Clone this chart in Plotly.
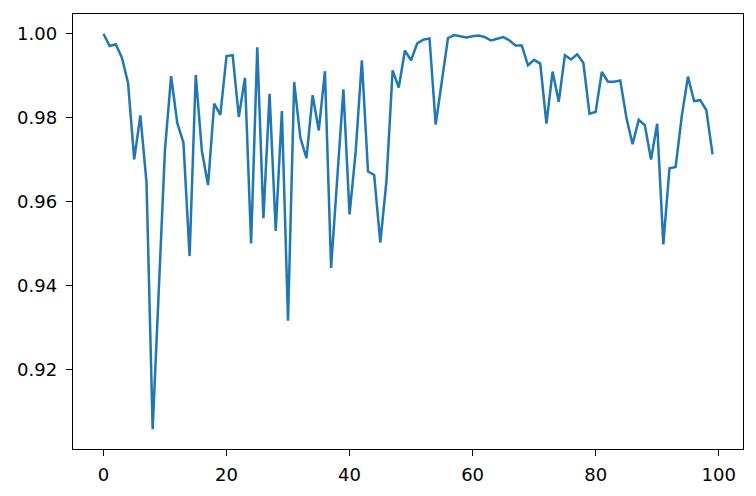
import plotly.graph_objects as go

x_values = list(range(100))
y_values = [
    1.0000, 0.9971, 0.9975, 0.9943, 0.9883, 0.9701, 0.9806, 0.9646, 0.9059, 0.9380,
    0.9725, 0.9899, 0.9788, 0.9741, 0.9471, 0.9902, 0.9721, 0.9640, 0.9834, 0.9807,
    0.9947, 0.9949, 0.9802, 0.9895, 0.9501, 0.9968, 0.9561, 0.9857, 0.9531, 0.9816,
    0.9317, 0.9885, 0.9753, 0.9704, 0.9854, 0.9770, 0.9911, 0.9443, 0.9665, 0.9868,
    0.9570, 0.9720, 0.9937, 0.9672, 0.9664, 0.9503, 0.9650, 0.9913, 0.9872, 0.9960,
    0.9937, 0.9977, 0.9986, 0.9989, 0.9784, 0.9891, 0.9990, 0.9997, 0.9994, 0.9991,
    0.9994, 0.9996, 0.9992, 0.9984, 0.9988, 0.9992, 0.9984, 0.9972, 0.9972, 0.9925,
    0.9938, 0.9929, 0.9786, 0.9910, 0.9838, 0.9949, 0.9939, 0.9951, 0.9931, 0.9810,
    0.9814, 0.9909, 0.9886, 0.9886, 0.9889, 0.9800, 0.9737, 0.9795, 0.9782, 0.9701,
    0.9786, 0.9499, 0.9680, 0.9683, 0.9804, 0.9898, 0.9840, 0.9842, 0.9818, 0.9713,
]
x_ticks = [0, 20, 40, 60, 80, 100]
y_ticks = [0.92, 0.94, 0.96, 0.98, 1.00]

fig = go.Figure(
    go.Scatter(x=x_values, y=y_values, mode="lines",
               line=dict(color="#1f77b4", width=2.5), showlegend=False)
)

xmin, xmax = min(x_values), max(x_values)
ymin, ymax = min(y_values), max(y_values)
xpad = (xmax - xmin) * 0.05
ypad = (ymax - ymin) * 0.05

axis_common = dict(
    showgrid=False, zeroline=False, showline=True, mirror=True,
    linecolor="black", linewidth=1.4, ticks="outside", ticklen=6,
    tickwidth=1.4, tickcolor="black",
    tickfont=dict(family="DejaVu Sans", size=18, color="black"),
)

fig.update_xaxes(range=[xmin - xpad, xmax + xpad], tickvals=x_ticks,
                 ticklabelstandoff=3, **axis_common)
fig.update_yaxes(range=[ymin - ypad, ymax + ypad], tickvals=y_ticks,
                 tickformat=".2f", ticklabelstandoff=5, **axis_common)

# The page body has an 8px default margin; compensate so the plot area
# lands where the reference has it.
fig.update_layout(
    width=748, height=488,
    margin=dict(l=65, r=13, t=6, b=47),
    paper_bgcolor="white", plot_bgcolor="white",
)

fig.write_html("out.html")
